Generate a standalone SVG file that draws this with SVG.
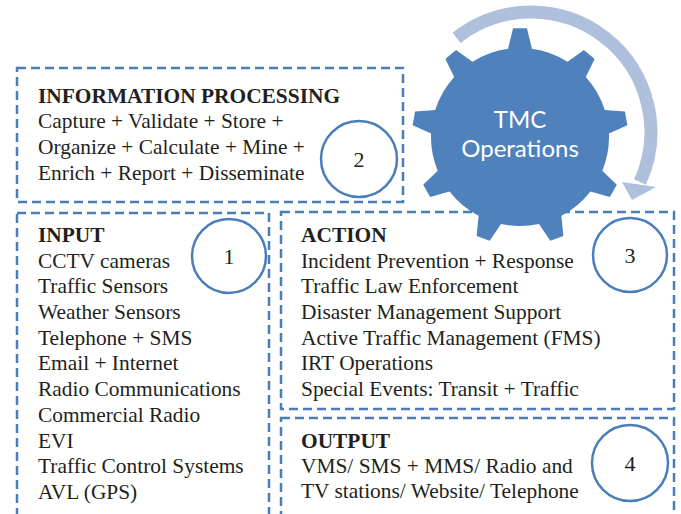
<svg xmlns="http://www.w3.org/2000/svg" width="681" height="514" viewBox="0 0 681 514">
<style>
.box{fill:none;stroke:#4a7ebb;stroke-width:2.5;stroke-dasharray:9 5}
.num{fill:#fff;stroke:#4a7ebb;stroke-width:2.5}
.t{font-family:"Liberation Serif","Times New Roman",serif;font-size:21.4px;fill:#231f20}
.h{font-weight:bold}
.d{font-family:"Liberation Serif","Times New Roman",serif;font-size:22px;fill:#231f20;text-anchor:middle}
.g{font-family:Lato,"Open Sans",sans-serif;font-size:24px;fill:#fff;text-anchor:middle}
</style>
<rect width="681" height="514" fill="#fff"/>
<g id="info">
<rect class="box" x="17" y="68" width="386" height="134"/>
<text class="t h" x="38" y="103">INFORMATION PROCESSING</text>
<text class="t" x="38" y="128">Capture + Validate + Store +</text>
<text class="t" x="38" y="154">Organize + Calculate + Mine +</text>
<text class="t" x="38" y="180">Enrich + Report + Disseminate</text>
<circle class="num" cx="359" cy="159" r="38"/>
<text class="d" x="359" y="167">2</text>
</g>
<g id="input">
<rect class="box" x="17" y="213" width="252" height="320"/>
<text class="t h" x="38" y="242">INPUT</text>
<text class="t" x="38" y="268">CCTV cameras</text>
<text class="t" x="38" y="293">Traffic Sensors</text>
<text class="t" x="38" y="319">Weather Sensors</text>
<text class="t" x="38" y="345">Telephone + SMS</text>
<text class="t" x="38" y="370">Email + Internet</text>
<text class="t" x="38" y="396">Radio Communications</text>
<text class="t" x="38" y="422">Commercial Radio</text>
<text class="t" x="38" y="448">EVI</text>
<text class="t" x="38" y="473">Traffic Control Systems</text>
<text class="t" x="38" y="499">AVL (GPS)</text>
<circle class="num" cx="229" cy="256" r="37"/>
<text class="d" x="229" y="264">1</text>
</g>
<g id="action">
<rect class="box" x="281" y="212" width="393" height="197"/>
<text class="t h" x="301" y="242">ACTION</text>
<text class="t" x="301" y="268">Incident Prevention + Response</text>
<text class="t" x="301" y="293">Traffic Law Enforcement</text>
<text class="t" x="301" y="319">Disaster Management Support</text>
<text class="t" x="301" y="345">Active Traffic Management (FMS)</text>
<text class="t" x="301" y="370">IRT Operations</text>
<text class="t" x="301" y="396">Special Events: Transit + Traffic</text>
<circle class="num" cx="630" cy="255" r="37"/>
<text class="d" x="630" y="263">3</text>
</g>
<g id="output">
<rect class="box" x="281" y="418" width="393" height="120"/>
<text class="t h" x="301" y="448">OUTPUT</text>
<text class="t" x="301" y="473">VMS/ SMS + MMS/ Radio and</text>
<text class="t" x="301" y="498">TV stations/ Website/ Telephone</text>
<circle class="num" cx="630" cy="463" r="38"/>
<text class="d" x="630" y="471">4</text>
</g>
<g id="tmc">
<path fill="#4f81bd" d="M508.07 48.8 L513.03 28.2 L526.97 28.2 L531.93 48.8 A89 89 0 0 1 567.56 61.77 L583.94 49.96 L594.62 58.92 L585.82 77.1 A89 89 0 0 1 604.79 109.94 L624.93 111.43 L627.35 125.15 L608.93 133.43 A89 89 0 0 1 602.34 170.78 L616.82 184.85 L609.86 196.92 L590.42 191.42 A89 89 0 0 1 561.37 215.8 L563.41 235.9 L550.32 240.66 L538.96 223.95 A89 89 0 0 1 501.04 223.95 L489.68 240.66 L476.59 235.9 L478.63 215.8 A89 89 0 0 1 449.58 191.42 L430.14 196.92 L423.18 184.85 L437.66 170.78 A89 89 0 0 1 431.07 133.43 L412.65 125.15 L415.07 111.43 L435.21 109.94 A89 89 0 0 1 454.18 77.1 L445.38 58.92 L456.06 49.96 L472.44 61.77 A89 89 0 0 1 508.07 48.8 Z"/>
<text class="g" x="520" y="128">TMC</text>
<text class="g" x="520" y="157">Operations</text>
</g>
<g id="connectors">
<path d="M456.6 37.8 A120 120 0 0 1 640 182" fill="none" stroke="#afc0dd" stroke-width="13"/>
<polygon points="622,182 656,187 632,200" fill="#afc0dd"/>
</g>
</svg>
